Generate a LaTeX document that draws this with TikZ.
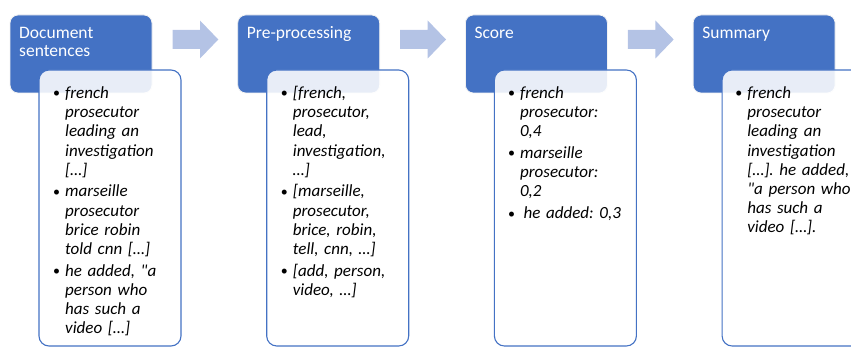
\documentclass[tikz,border=0pt]{standalone}
\usepackage{fontspec}
\setmainfont{Carlito}[Ligatures=TeXOff]
\definecolor{headblue}{RGB}{68,114,196}
\definecolor{arrowblue}{RGB}{180,195,229}
% bullet for the first entry of a list, and for each later entry
\newcommand\bfirst{\noindent\llap{\makebox[12pt][l]{\raisebox{0.6pt}{\fontsize{14}{14}\selectfont\upshape\textbullet}}}}
\newcommand\bitem{\par\bfirst}
\tikzset{
  headbox/.style={fill=headblue, draw=white!90!gray, line width=0.8pt, rounded corners=8pt},
  listbox/.style={fill=white, fill opacity=0.88, draw=headblue, line width=1.1pt, rounded corners=10pt},
  flowarrow/.style={fill=arrowblue, draw=none},
  headtext/.style={anchor=base west, inner sep=0pt, text width=135pt, align=left,
    text=white, font=\fontsize{17.5}{18.5}\selectfont},
  listtext/.style={anchor=base west, inner sep=0pt, text width=125pt, align=left,
    text=black, font=\itshape\fontsize{17}{19.2}\selectfont\frenchspacing}
}
\begin{document}
\begin{tikzpicture}[x=1pt, y=-1pt]
\useasboundingbox (0,0) rectangle (851,347);

% header boxes
\foreach \h in {10, 237.7, 465.4, 693.1} {
  \path[headbox] (\h,15) rectangle ++(142,78);
}
% arrows between columns
\foreach \h in {10, 237.7, 465.4} {
  \path[flowarrow] (\h+162.5,30) -- (\h+190,30) -- (\h+190,20.5) -- (\h+208.3,39.5)
    -- (\h+190,58.5) -- (\h+190,49) -- (\h+162.5,49) -- cycle;
}
% list boxes overlapping the headers
\foreach \h in {10, 237.7, 465.4, 693.1} {
  \path[listbox] (\h+29,70) rectangle ++(142,276);
}

% header titles
\node[headtext] (t1) at (19,38.5) {Document\\sentences};
\node[headtext] (t2) at (246.7,38.5) {Pre-processing};
\node[headtext] (t3) at (474.4,38.5) {Score};
\node[headtext] (t4) at (702.1,38.5) {Summary};

% list contents
\node[listtext] (l1) at (65,98.5) {\setlength{\parskip}{2.5pt}%
  \bfirst french\\prosecutor\\leading an\\investigation\\\relax[…]
  \bitem marseille\\prosecutor\\brice robin\\told cnn […]
  \bitem he added, "a\\person who\\has such a\\video […]};
\node[listtext] (l2) at (292.7,98.5) {\setlength{\parskip}{2.5pt}%
  \bfirst [french,\\prosecutor,\\lead,\\investigation,\\…]
  \bitem [marseille,\\prosecutor,\\brice, robin,\\tell, cnn, …]
  \bitem [add, person,\\video, …]};
\node[listtext] (l3) at (519.9,98.5) {\setlength{\parskip}{2.5pt}%
  \bfirst french\\prosecutor:\\0,4
  \bitem marseille\\prosecutor:\\0,2
  \bitem \hspace{3.5pt}he added: 0,3};
\node[listtext] (l4) at (747.1,98.5) {\setlength{\parskip}{2.5pt}%
  \bfirst french\\prosecutor\\leading an\\investigation\\\relax[…]. he added,\\"a person who\\has such a\\video […].};
\end{tikzpicture}
\end{document}
